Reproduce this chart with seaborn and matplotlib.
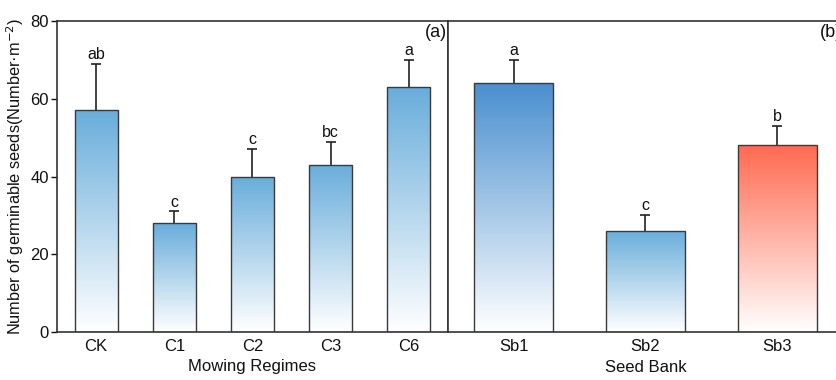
import numpy as np
import pandas as pd
import matplotlib
matplotlib.use("Agg")
import matplotlib.pyplot as plt
import seaborn as sns
from matplotlib.colors import to_rgb

# ---- data ----
mow_cats = ["CK", "C1", "C2", "C3", "C6"]
mow_vals = [57, 28, 40, 43, 63]
mow_err = [12, 3, 7, 6, 7]
mow_letters = ["ab", "c", "c", "bc", "a"]

sb_cats = ["Sb1", "Sb2", "Sb3"]
sb_vals = [64, 26, 48]
sb_err = [6, 4, 5]
sb_letters = ["a", "c", "b"]

yticks = [0, 20, 40, 60, 80]

mow_colors = ["#69addb"] * 5
sb_colors = ["#4a8fcf", "#69addb", "#ff6a50"]

sns.set_theme(style="white")
plt.rcParams['font.family'] = ['Liberation Sans', 'DejaVu Sans']

fig = plt.figure(figsize=(8.37, 3.8), dpi=100)
W, H = 837, 380
bottom = 1 - 332 / H
height = (332 - 21) / H
axL = fig.add_axes([57 / W, bottom, (448 - 57) / W, height])
axR = fig.add_axes([448 / W, bottom, 395 / W, height])


def gradient_bars(ax, cats, vals, errs, letters, colors, width):
    df = pd.DataFrame({"cat": cats, "val": vals})
    sns.barplot(data=df, x="cat", y="val", ax=ax, width=width,
                color="white", edgecolor="#3a3a3a", linewidth=1.0,
                errorbar=None, zorder=2)
    ax.set_xlim(-0.5, len(cats) - 0.5)
    ax.set_ylim(0, 80)
    for i, p in enumerate(ax.patches):
        x0, y0 = p.get_x(), p.get_y()
        w, h = p.get_width(), p.get_height()
        c = np.array(to_rgb(colors[i]))
        n = 256
        t = np.linspace(0, 1, n)[:, None]  # 0 bottom -> 1 top
        img = (1 - t) * np.ones(3) + t * c
        img = img[:, None, :]
        im = ax.imshow(img, extent=[x0, x0 + w, y0, y0 + h], origin="lower",
                       aspect="auto", zorder=1.5, interpolation="bilinear")
        im.set_clip_path(p)
        p.set_facecolor("none")
    ax.set_aspect("auto")
    xs = np.arange(len(cats))
    eb = ax.errorbar(xs, vals, yerr=[np.zeros(len(vals)), errs], fmt="none",
                     ecolor="#222222", elinewidth=1.2, capsize=3.5,
                     capthick=1.2, zorder=1.8)
    caps = eb[1]
    if len(caps) >= 2:
        caps[0].set_visible(False)
    for xi, v, e, lab in zip(xs, vals, errs, letters):
        ax.text(xi, v + e + 0.5, lab, ha="center", va="bottom",
                fontsize=11.5, color="#111111")


gradient_bars(axL, mow_cats, mow_vals, mow_err, mow_letters, mow_colors, 0.55)
gradient_bars(axR, sb_cats, sb_vals, sb_err, sb_letters, sb_colors, 0.6)

for ax in (axL, axR):
    for s in ax.spines.values():
        s.set_color("#333333")
        s.set_linewidth(1.2)
    ax.tick_params(axis="x", length=0, labelsize=12, pad=5, colors="#111111")
    ax.grid(False)

axL.set_yticks(yticks)
axL.tick_params(axis="y", length=4, width=1, direction="out", labelsize=12,
                left=True, colors="#111111", pad=2)
axL.set_ylabel("Number of germinable seeds(Number·m$^{-2}$)", fontsize=11.8,
               color="#111111", labelpad=3)
axL.set_xlabel("Mowing Regimes", fontsize=12, color="#111111", labelpad=4)

axR.set_yticks([])
axR.set_ylabel("")
axR.set_xlabel("Seed Bank", fontsize=12, color="#111111", labelpad=4)

axL.text(0.997, 0.99, "(a)", transform=axL.transAxes, ha="right", va="top",
         fontsize=13, color="#111111")
axR.text(0.997, 0.99, "(b)", transform=axR.transAxes, ha="right", va="top",
         fontsize=13, color="#111111")

fig.savefig("out.png", dpi=100)
